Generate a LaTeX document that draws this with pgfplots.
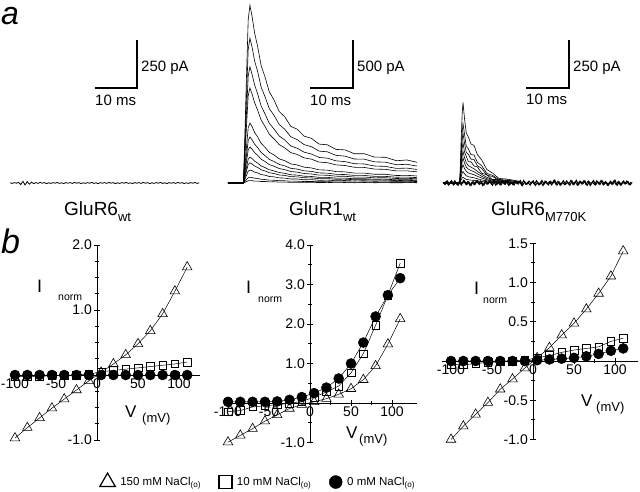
\documentclass[border=0pt]{standalone}
\usepackage{fontspec}
\setmainfont{Liberation Sans}
\usepackage{pgfplots}
\pgfplotsset{compat=1.18}
\usepackage{pgfplotstable}

% GluR1wt traces (t in ms, current in pA)
\pgfplotstableread{
t A B C D E F G H I J K L
0 0 0 0 0 0 0 0 0 0 0 0 0
3.6 5 -5 4 -3 3 -2 2 -2 2 -2 1 -1
3.9 463 378 303 248 156 120 94 68 53 34 15 6
4.3 1110 906 726 594 375 288 225 162 126 81 36 15
4.7 1702 1389 1113 911 575 442 345 248 193 124 55 23
5.1 1850 1510 1210 990 625 480 375 270 210 135 60 25
5.6 1735 1415 1132 926 586 450 352 254 198 128 57 24
6.2 1560 1270 1020 835 526 404 316 227 176 113 50 20
6.9 1420 1160 928 758 480 369 288 208 162 105 47 20
7.7 1225 1000 803 657 414 318 248 178 138 88 39 16
8.6 1105 900 720 590 373 286 224 161 126 82 36 16
9.6 950 775 622 509 320 246 192 138 107 68 30 12
10.7 865 705 563 460 292 224 175 126 99 64 29 13
11.9 745 610 490 400 252 194 151 109 84 53 24 9
13.2 690 560 448 366 232 178 139 101 79 51 23 10
14.6 590 482 386 317 199 153 120 86 66 42 19 7
16.1 560 452 362 297 188 145 113 82 64 42 19 8
17.7 488 400 321 262 165 127 99 71 55 34 15 6
19.4 465 378 302 248 157 121 94 68 53 35 16 7
21.2 405 332 266 218 137 105 82 59 45 28 13 5
23.1 398 325 259 212 134 103 81 59 46 30 14 6
25.1 350 288 231 189 119 91 71 51 39 24 11 4
27.2 345 280 223 182 116 88 70 51 40 26 12 5
29.4 305 250 201 164 103 79 62 44 34 21 9 3
31.7 305 248 198 162 103 79 62 45 36 24 11 5
34.1 270 220 177 145 91 69 54 39 30 18 8 3
36.6 268 217 173 142 91 69 55 40 31 21 9 4
39.2 232 190 152 126 78 60 47 33 25 16 7 2
41.6 240 195 155 127 80 62 49 36 28 19 9 4
44.0 215 176 141 116 73 56 44 31 24 15 6 3
}\gluone

% GluR6 M770K traces
\pgfplotstableread{
t A B C D E F G H I
0 0 0 0 0 0 0 0 0 0
3.9 0 0 0 0 0 0 0 0 0
4.2 210 155 130 105 83 65 48 30 15
4.45 357 264 221 179 140 111 81 51 26
4.65 420 310 260 210 165 130 95 60 30
5.0 336 255 208 162 132 104 76 48 24
5.4 262 192 160 140 106 83 61 38 19
5.9 240 178 150 110 91 72 52 33 17
6.5 203 148 124 111 83 65 48 30 15
7.2 196 146 123 89 74 59 43 27 14
8.0 148 108 90 84 61 48 35 22 11
9.0 120 90 76 51 45 35 26 16 8
10.2 70 50 41 43 30 23 17 11 5
11.5 52 40 34 18 18 14 10 7 3
13.0 24 18 14 19 12 9 7 4 2
15.0 20 15 13 5 7 5 4 2 1
18.0 8 6 5 4 3 3 2 1 1
}\gluk

% I-V data
\pgfplotstableread{
V t1 s1 c1 t2 s2 c2 t3 s3 c3
-100 -0.97 -0.02 0.00 -0.99 -0.22 0.03 -1.00 -0.04 0.00
-85 -0.81 -0.02 0.00 -0.82 -0.19 0.03 -0.83 -0.05 0.00
-70 -0.66 -0.02 0.00 -0.65 -0.10 0.03 -0.68 -0.03 0.00
-55 -0.51 -0.01 0.00 -0.46 -0.07 0.03 -0.53 -0.02 0.00
-40 -0.37 -0.01 0.00 -0.30 -0.04 0.04 -0.36 -0.01 0.00
-25 -0.23 0.00 0.00 -0.14 -0.01 0.08 -0.23 0.00 0.00
-10 -0.09 0.01 0.00 -0.04 0.04 0.15 -0.09 0.01 0.00
5 0.04 0.05 0.00 0.03 0.15 0.25 0.04 0.04 0.01
20 0.17 0.07 0.00 0.11 0.28 0.39 0.17 0.07 0.02
35 0.31 0.09 0.00 0.22 0.43 0.62 0.33 0.11 0.03
50 0.48 0.11 0.00 0.36 0.76 1.00 0.48 0.14 0.04
65 0.68 0.13 0.00 0.59 1.25 1.53 0.66 0.16 0.06
80 0.94 0.15 0.00 0.94 1.97 2.19 0.86 0.18 0.09
95 1.29 0.17 0.00 1.49 2.73 2.73 1.08 0.25 0.13
110 1.66 0.20 0.00 2.13 3.54 3.16 1.40 0.29 0.16
}\iv

\pgfplotsset{
  trace/.style={hide axis, anchor=origin, clip=false},
  tr/.style={black, line width=0.6pt, no marks},
  ivaxis/.style={anchor=origin, axis lines=middle, axis line style={-, line width=0.8pt},
    tick align=center, major tick length=6pt, minor tick length=4pt,
    tick style={line width=0.8pt, black},
    hide obscured x ticks=false,
    xtick={-100,-50,0,50,100}, xticklabels={-100,-50,0,50,100}, minor x tick num=1,
    tick label style={font=\fontsize{14}{14}\selectfont},
    xticklabel style={inner sep=1pt},
    yticklabel style={inner sep=2pt},
    clip=false},
  tri/.style={black, line width=0.5pt, mark=triangle, mark size=5.5pt, mark options={fill=white, line width=0.6pt}},
  sq/.style={black, line width=0.5pt, mark=square, mark size=3.8pt, mark options={fill=white, line width=0.6pt}},
  ci/.style={black, line width=0.5pt, mark=*, mark size=5pt},
}

\begin{document}
\begin{tikzpicture}[x=1pt,y=1pt]
\useasboundingbox (0,0) rectangle (640,-491);

% panel labels
\node[anchor=base west, inner sep=0, font=\fontsize{32}{32}\selectfont\itshape] at (1,-24) {a};
\node[anchor=base west, inner sep=0, font=\fontsize{34}{34}\selectfont\itshape] at (1,-253) {b};

% ---- GluR6wt trace
\begin{axis}[trace, at={(10pt,-183pt)}, x=4.3pt, y=0.192pt, xmin=0, xmax=44, ymin=-20, ymax=20]
\addplot[black, line width=0.8pt, no marks] coordinates {
(0,1)(0.5,-2)(1,2)(1.5,-1)(2,3)(2.5,-8)(3,9)(3.5,-10)(4,7)(4.5,-6)
(5,4)(5.5,-3)(6,2)(6.5,-2)(7,3)(7.5,-1)(8,2)(8.5,-3)(9,1)(9.5,-2)
(10,2)(10.5,-1)(11,3)(11.5,-2)(12,1)(12.5,-3)(13,2)(13.5,-1)(14,2)(14.5,-2)
(15,3)(15.5,-1)(16,2)(16.5,-3)(17,1)(17.5,-2)(18,2)(18.5,-1)(19,3)(19.5,-2)
(20,1)(20.5,-3)(21,2)(21.5,-1)(22,2)(22.5,-2)(23,3)(23.5,-1)(24,2)(24.5,-3)
(25,1)(25.5,-2)(26,2)(26.5,-1)(27,3)(27.5,-2)(28,1)(28.5,-3)(29,2)(29.5,-1)
(30,2)(30.5,-2)(31,3)(31.5,-1)(32,2)(32.5,-3)(33,1)(33.5,-2)(34,2)(34.5,-1)
(35,3)(35.5,-2)(36,1)(36.5,-3)(37,2)(37.5,-1)(38,2)(38.5,-2)(39,3)(39.5,-1)
(40,2)(40.5,-3)(41,1)(41.5,-2)(42,2)(42.5,-1)(43,3)(43.5,-2)(44,1)};
\end{axis}
\draw[line width=1.2pt] (95,-88) -- (137,-88) -- (137,-40);
\node[anchor=base west, inner sep=0, font=\fontsize{15}{15}\selectfont] at (141,-71.4) {250 pA};
\node[anchor=base west, inner sep=0, font=\fontsize{15}{15}\selectfont] at (95,-105.4) {10 ms};
\node[anchor=base west, inner sep=0, font=\fontsize{19}{19}\selectfont] at (64,-215) {GluR6\raisebox{-6pt}{\fontsize{13}{13}\selectfont wt}};

% ---- GluR1wt traces
\begin{axis}[trace, at={(228pt,-183pt)}, x=4.3pt, y=0.096pt, xmin=0, xmax=44, ymin=-20, ymax=1900]
\foreach \c in {A,B,C,D,E,F,G,H,I,J,K,L}{
  \addplot[tr] table[x=t, y=\c] {\gluone};
}
\end{axis}
\draw[line width=1.2pt] (310,-88) -- (353,-88) -- (353,-40);
\node[anchor=base west, inner sep=0, font=\fontsize{15}{15}\selectfont] at (357,-71.4) {500 pA};
\node[anchor=base west, inner sep=0, font=\fontsize{15}{15}\selectfont] at (310,-105.4) {10 ms};
\node[anchor=base west, inner sep=0, font=\fontsize{19}{19}\selectfont] at (289,-215) {GluR1\raisebox{-6pt}{\fontsize{13}{13}\selectfont wt}};

% ---- GluR6 M770K traces
\begin{axis}[trace, at={(443pt,-183pt)}, x=4.3pt, y=0.192pt, xmin=0, xmax=44, ymin=-20, ymax=450]
\addplot[black, line width=1.0pt, no marks] coordinates {
(0,5)(0.5,-8)(1,10)(1.5,-6)(2,12)(2.5,-10)(3,4)(3.5,-12)(4,8)(4.5,-3)
(5,11)(5.5,-9)(6,6)(6.5,-13)(7,9)(7.5,-5)(8,13)(8.5,-7)(9,3)(9.5,-11)
(10,10)(10.5,-4)(11,7)(11.5,-12)(12,12)(12.5,-8)(13,5)(13.5,-10)(14,9)(14.5,-6)
(15,14)(15.5,-9)(16,2)(16.5,-11)(17,8)(17.5,-5)(18,12)(18.5,-13)(19,6)(19.5,-7)
(20,10)(20.5,-3)(21,11)(21.5,-12)(22,4)(22.5,-9)(23,13)(23.5,-6)(24,7)(24.5,-10)
(25,9)(25.5,-4)(26,15)(26.5,-11)(27,5)(27.5,-8)(28,12)(28.5,-7)(29,3)(29.5,-12)
(30,10)(30.5,-6)(31,14)(31.5,-9)(32,8)(32.5,-5)(33,11)(33.5,-13)(34,6)(34.5,-4)
(35,13)(35.5,-10)(36,7)(36.5,-8)(37,12)(37.5,-6)(38,4)(38.5,-11)(39,9)(39.5,-7)
(40,15)(40.5,-12)(41,5)(41.5,-9)(42,10)(42.5,-5)(43,8)(43.5,-10)(44,3)};
\addplot[black, line width=1.0pt, no marks] coordinates {
(0.25,-6)(0.75,9)(1.25,-11)(1.75,7)(2.25,-4)(2.75,12)(3.25,-8)(3.75,6)(4.25,-10)(4.75,13)
(5.25,-5)(5.75,8)(6.25,-12)(6.75,4)(7.25,-9)(7.75,11)(8.25,-3)(8.75,10)(9.25,-13)(9.75,6)
(10.25,-7)(10.75,12)(11.25,-5)(11.75,9)(12.25,-11)(12.75,3)(13.25,-9)(13.75,14)(14.25,-6)(14.75,8)
(15.25,-12)(15.75,5)(16.25,-8)(16.75,11)(17.25,-4)(17.75,9)(18.25,-10)(18.75,13)(19.25,-7)(19.75,4)
(20.25,-11)(20.75,8)(21.25,-6)(21.75,12)(22.25,-9)(22.75,5)(23.25,-13)(23.75,10)(24.25,-4)(24.75,7)
(25.25,-10)(25.75,13)(26.25,-6)(26.75,9)(27.25,-12)(27.75,4)(28.25,-8)(28.75,11)(29.25,-5)(29.75,14)
(30.25,-9)(30.75,6)(31.25,-11)(31.75,8)(32.25,-4)(32.75,12)(33.25,-7)(33.75,10)(34.25,-13)(34.75,5)
(35.25,-8)(35.75,11)(36.25,-5)(36.75,13)(37.25,-10)(37.75,7)(38.25,-12)(38.75,4)(39.25,-6)(39.75,12)
(40.25,-9)(40.75,8)(41.25,-11)(41.75,6)(42.25,-4)(42.75,10)(43.25,-8)(43.75,5)};
\foreach \c in {A,B,C,D,E,F,G,H,I}{
  \addplot[tr] table[x=t, y=\c] {\gluk};
}
\end{axis}
\draw[line width=1.2pt] (526,-88) -- (569,-88) -- (569,-40);
\node[anchor=base west, inner sep=0, font=\fontsize{15}{15}\selectfont] at (573,-71.4) {250 pA};
\node[anchor=base west, inner sep=0, font=\fontsize{15}{15}\selectfont] at (526,-104.4) {10 ms};
\node[anchor=base west, inner sep=0, font=\fontsize{19}{19}\selectfont] at (491,-215) {GluR6\raisebox{-6pt}{\fontsize{13}{13}\selectfont M770K}};

% ---- I-V plot 1
\begin{axis}[ivaxis, at={(97pt,-375pt)}, x=0.82pt, y=65pt, xmin=-104, xmax=125, ymin=-1, ymax=2,
  ytick={-1,0,1,2}, yticklabels={-1.0,,1.0,2.0}, minor y tick num=3]
\addplot[tri] table[x=V, y=t1] {\iv};
\addplot[sq] table[x=V, y=s1] {\iv};
\addplot[ci] table[x=V, y=c1] {\iv};
\end{axis}
\node[anchor=base west, inner sep=0, font=\fontsize{18}{18}\selectfont] at (37,-292) {I};
\node[anchor=base west, inner sep=0, font=\fontsize{10.5}{11}\selectfont] at (58,-300) {norm};
\node[anchor=base west, inner sep=0, font=\fontsize{17}{17}\selectfont] at (125,-417) {V};
\node[anchor=base west, inner sep=0, font=\fontsize{13}{13}\selectfont] at (142,-422) {(mV)};

% ---- I-V plot 2
\begin{axis}[ivaxis, at={(310pt,-403pt)}, x=0.82pt, y=39.5pt, xmin=-104, xmax=130, ymin=-1, ymax=4,
  ytick={-1,0,1,2,3,4}, yticklabels={-1.0,,1.0,2.0,3.0,4.0}, minor y tick num=1]
\addplot[tri] table[x=V, y=t2] {\iv};
\addplot[sq] table[x=V, y=s2] {\iv};
\addplot[ci] table[x=V, y=c2] {\iv};
\end{axis}
\node[anchor=base west, inner sep=0, font=\fontsize{18}{18}\selectfont] at (246,-293) {I};
\node[anchor=base west, inner sep=0, font=\fontsize{10.5}{11}\selectfont] at (258,-302) {norm};
\node[anchor=base west, inner sep=0, font=\fontsize{17}{17}\selectfont] at (346,-438) {V};
\node[anchor=base west, inner sep=0, font=\fontsize{13}{13}\selectfont] at (359,-443) {(mV)};

% ---- I-V plot 3
\begin{axis}[ivaxis, at={(533pt,-361pt)}, x=0.82pt, y=78.5pt, xmin=-111, xmax=128, ymin=-1, ymax=1.5,
  ytick={-1,-0.5,0,0.5,1,1.5}, yticklabels={-1.0,-0.5,,0.5,1.0,1.5}, minor y tick num=1]
\addplot[tri] table[x=V, y=t3] {\iv};
\addplot[sq] table[x=V, y=s3] {\iv};
\addplot[ci] table[x=V, y=c3] {\iv};
\end{axis}
\node[anchor=base west, inner sep=0, font=\fontsize{18}{18}\selectfont] at (474,-294) {I};
\node[anchor=base west, inner sep=0, font=\fontsize{10.5}{11}\selectfont] at (483,-303) {norm};
\node[anchor=base west, inner sep=0, font=\fontsize{17}{17}\selectfont] at (581,-406) {V};
\node[anchor=base west, inner sep=0, font=\fontsize{13}{13}\selectfont] at (596,-411) {(mV)};

% ---- legend
\begin{axis}[hide axis, scale only axis, width=640pt, height=20pt, at={(0pt,-491pt)}, anchor=south west,
  xmin=0, xmax=1, ymin=0, ymax=1,
  legend columns=3,
  legend image code/.code={\draw[#1] plot coordinates {(0pt,0pt)};},
  legend style={draw=none, fill=none, at={(0.403,0.5)}, anchor=center,
    font=\fontsize{11.5}{12}\selectfont,
    nodes={inner xsep=1pt},
    /tikz/every odd column/.append style={column sep=4pt},
    /tikz/every even column/.append style={column sep=17pt}}]
\addlegendimage{only marks, black, mark=triangle, mark size=9pt, mark options={line width=1.2pt}}
\addlegendentry{150 mM NaCl\textsubscript{(o)}}
\addlegendimage{only marks, black, mark=square, mark size=6.5pt, mark options={line width=1.2pt}}
\addlegendentry{10 mM NaCl\textsubscript{(o)}}
\addlegendimage{only marks, black, mark=*, mark size=6.5pt}
\addlegendentry{0 mM NaCl\textsubscript{(o)}}
\end{axis}
\end{tikzpicture}
\end{document}
